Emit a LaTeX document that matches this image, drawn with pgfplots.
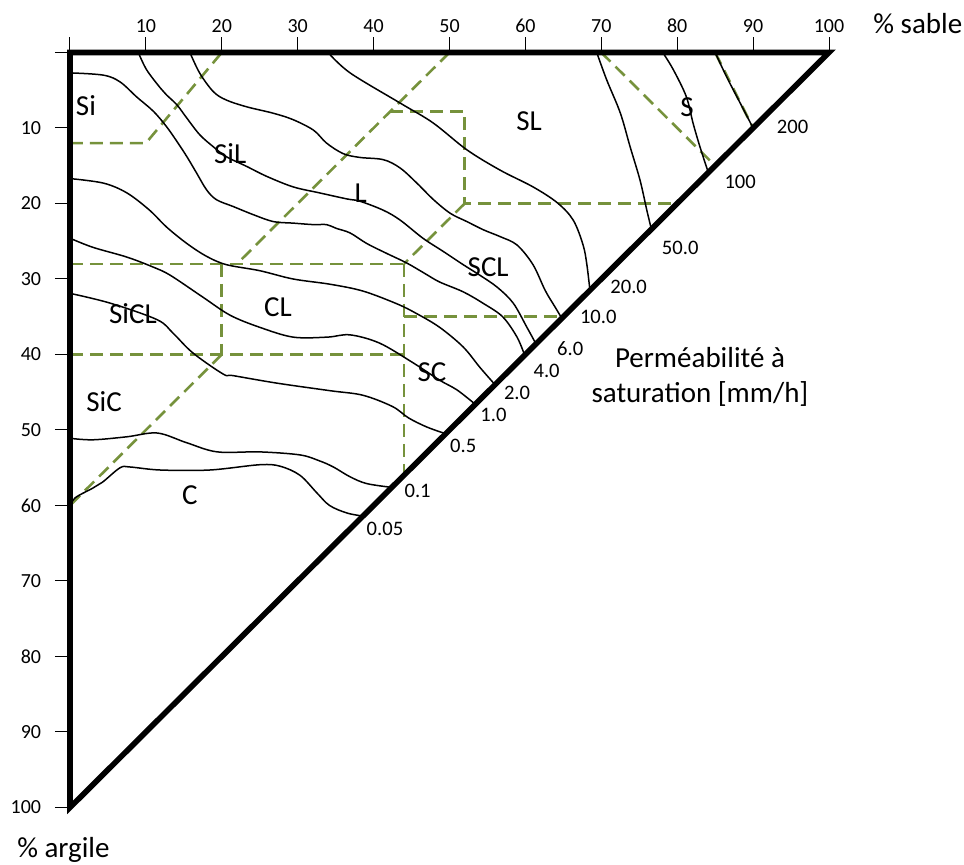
\documentclass[border=0pt]{standalone}
\usepackage{fontspec}
\setmainfont{Carlito}
\usepackage{pgfplots}
\pgfplotsset{compat=1.18}
\definecolor{olivegrn}{RGB}{118,146,60}
\newcommand\bigf{\fontsize{14.5}{17.7}\selectfont}
\newcommand\smf{\fontsize{10.3}{12.5}\selectfont}
\begin{document}
\begin{tikzpicture}
\begin{axis}[
  at={(0,0)}, anchor=south west,
  scale only axis, width=379.5pt, height=377.5pt,
  xmin=0, xmax=100, ymin=0, ymax=100,
  y dir=reverse, clip=false,
  axis line style={draw=none},
  xtick={0,10,...,100}, ytick={0,10,...,100},
  xticklabels={,10,20,30,40,50,60,70,80,90,100},
  yticklabels={,10,20,30,40,50,60,70,80,90,100},
  xtick pos=right, ytick pos=left,
  xticklabel pos=right, yticklabel pos=left,
  tick align=outside, major tick length=7.5pt,
  tick style={black, line width=0.5pt},
  /pgf/number format/assume math mode=true,
  ticklabel style={font=\fontsize{10}{12}\selectfont},
  xticklabel style={yshift=-1.2pt},
  yticklabel style={xshift=-3.4pt},
  pcurve/.style={black, line width=0.75pt, smooth, tension=0.55},
  grn/.style={olivegrn, line width=1.3pt, dash pattern=on 6.5pt off 3.5pt},
]
% texture class boundaries
\addplot[grn] coordinates {(0,12) (10,12) (20,0)};
\addplot[grn] coordinates {(50,0) (22,28)};
\addplot[grn] coordinates {(42.2,7.8) (52,7.8) (52,20) (80,20)};
\addplot[grn] coordinates {(52,20) (44,28)};
\addplot[grn] coordinates {(0,28) (44,28)};
\addplot[grn] coordinates {(44,28) (44,56)};
\addplot[grn] coordinates {(44,35) (65,35)};
\addplot[grn] coordinates {(0,40) (44,40)};
\addplot[grn] coordinates {(20,28) (20,40)};
\addplot[grn] coordinates {(20,40) (0,60)};
\addplot[grn] coordinates {(70,0) (85,15)};
\addplot[grn] coordinates {(85,0) (90,10)};
% permeability curves
\addplot[pcurve] coordinates {(0,60.2) (0.66,59.0) (3.0,57.7) (4.3,56.9) (6.6,55.0) (7.9,54.9) (11.9,55.3) (18.4,55.3) (25.0,54.6) (27.7,54.8) (30.3,56.0) (32.5,58.3) (34.2,60.0) (36.5,61.0) (38.6,61.4)};
\addplot[pcurve] coordinates {(0,51.1) (3.0,51.3) (7.5,50.9) (11.5,50.4) (15.4,51.7) (19.4,52.9) (25.0,52.9) (30.3,53.3) (32.9,54.1) (34.7,54.9) (36.9,56.2) (39.1,57.1) (42.4,57.6)};
\addplot[pcurve] coordinates {(0,31.9) (5.3,33.2) (11.5,35.4) (13.6,37.2) (16.2,39.8) (20.2,42.6) (21.5,42.8) (27.3,43.8) (34.3,44.8) (38.6,45.4) (42.5,46.9) (44.6,48.4) (47.0,49.6) (49.5,50.5)};
\addplot[pcurve] coordinates {(0,24.6) (3.0,25.8) (7.5,27.1) (10.9,28.4) (13.2,29.5) (17.5,32.4) (21.1,34.8) (25.0,36.4) (29.4,37.7) (33.9,37.7) (36.9,37.4) (40.8,38.5) (45.2,41.1) (48.7,43.4) (51.0,44.7) (53.4,46.6)};
\addplot[pcurve] coordinates {(0,16.7) (4.4,17.3) (7.5,18.6) (10.5,20.9) (12.7,23.1) (15.4,25.3) (18.0,27.0) (20.6,28.1) (25.0,28.9) (29.4,30.0) (34.3,30.7) (38.6,31.6) (43.1,33.3) (45.7,34.6) (48.7,36.4) (51.8,39.0) (54.0,41.7) (56.0,44.0)};
\addplot[pcurve] coordinates {(0,2.7) (4.4,3.0) (6.6,3.9) (8.8,5.9) (11.0,7.8) (12.7,9.8) (14.1,11.8) (15.4,13.8) (16.7,16.0) (18.0,18.2) (19.3,19.5) (21.5,20.4) (24.2,21.5) (26.8,22.4) (29.4,22.6) (32.1,22.8) (33.8,22.8) (35.1,23.3) (36.9,23.9) (39.1,25.3) (41.7,26.6) (44.4,27.9) (46.8,29.3) (48.7,30.4) (51.8,31.7) (54.4,33.2) (57.0,35.0) (58.9,37.7) (59.9,40.1)};
\addplot[pcurve] coordinates {(9.0,0) (10.1,2.3) (11.9,4.7) (12.7,5.6) (14.1,6.95) (15.4,8.7) (17.1,10.9) (18.9,12.5) (20.6,13.8) (23.3,15.1) (25.9,16.4) (29.4,17.8) (32.9,18.6) (36.5,19.4) (38.2,19.7) (41.3,20.9) (43.5,22.2) (46.5,24.6) (49.1,26.3) (51.8,28.1) (54.0,29.5) (56.3,31.1) (58.4,33.2) (60.2,36.4) (61.4,38.6)};
\addplot[pcurve] coordinates {(15.8,0) (17.1,2.75) (18.9,5.2) (20.6,6.3) (23.3,7.2) (26.8,8.05) (29.4,8.9) (32.1,10.3) (33.8,12.0) (36.0,13.4) (38.2,13.9) (41.3,14.2) (43.5,15.3) (45.7,17.3) (47.9,19.5) (50.1,21.3) (52.3,22.4) (54.5,23.5) (56.7,24.4) (58.9,25.5) (61.0,28.1) (62.6,31.5) (63.9,33.7) (64.8,35.2)};
\addplot[pcurve] coordinates {(34.0,0) (36.9,2.7) (43.5,6.7) (47.8,9.3) (52.3,12.9) (56.7,15.6) (61.0,17.8) (64.2,19.9) (66.3,22.2) (67.6,25.5) (68.1,28.1) (68.5,31.5)};
\addplot[pcurve] coordinates {(69.4,0) (70.7,3.6) (72.5,8.0) (73.8,12.5) (75.1,16.9) (76.0,20.9) (76.6,23.4)};
\addplot[pcurve] coordinates {(78.1,0) (79.5,2.3) (81.2,5.85) (82.1,9.4) (83.0,12.5) (84.1,15.9)};
\addplot[pcurve] coordinates {(85.0,0) (86.5,3.2) (88.3,6.7) (90.0,10.0)};
% triangle frame
\addplot[black, line width=2.8pt, line join=miter] coordinates {(0,0) (100,0) (0,100) (0,0) (100,0)};
% region labels
\node[font=\bigf] at (axis cs:2.1,7.1) {Si};
\node[font=\bigf] at (axis cs:21.1,13.4) {SiL};
\node[font=\bigf] at (axis cs:38.3,18.7) {L};
\node[font=\bigf] at (axis cs:60.5,9.1) {SL};
\node[font=\bigf] at (axis cs:81.3,7.2) {S};
\node[font=\bigf] at (axis cs:55.1,28.4) {SCL};
\node[font=\bigf] at (axis cs:27.4,33.7) {CL};
\node[font=\bigf] at (axis cs:8.3,34.6) {SiCL};
\node[font=\bigf] at (axis cs:47.7,42.3) {SC};
\node[font=\bigf] at (axis cs:4.5,46.2) {SiC};
\node[font=\bigf] at (axis cs:15.8,58.7) {C};
% permeability labels
\node[font=\smf] at (axis cs:95.2,9.8) {200};
\node[font=\smf] at (axis cs:88.3,17.2) {100};
\node[font=\smf] at (axis cs:80.4,25.9) {50.0};
\node[font=\smf] at (axis cs:73.6,31.0) {20.0};
\node[font=\smf] at (axis cs:69.6,35.0) {10.0};
\node[font=\smf] at (axis cs:65.9,39.2) {6.0};
\node[font=\smf] at (axis cs:62.8,42.2) {4.0};
\node[font=\smf] at (axis cs:58.9,45.1) {2.0};
\node[font=\smf] at (axis cs:55.8,48.0) {1.0};
\node[font=\smf] at (axis cs:51.8,52.1) {0.5};
\node[font=\smf] at (axis cs:45.8,58.1) {0.1};
\node[font=\smf] at (axis cs:41.5,63.1) {0.05};
\node[font=\bigf, align=center] at (axis cs:83.0,43.0) {Perméabilité à\\saturation [mm/h]};
\node[font=\bigf, anchor=base west, inner sep=0pt] at (axis cs:105.8,-2.54) {\% sable};
\node[font=\bigf, anchor=base west, inner sep=0pt] at (axis cs:-7.0,106.6) {\% argile};
\coordinate (TL) at (axis cs:0,0);
\coordinate (BR) at (axis cs:100,100);
\end{axis}
\pgfresetboundingbox
\path ([xshift=-35pt,yshift=26.25pt]TL) rectangle ([xshift=67.5pt,yshift=-28.75pt]BR);
\end{tikzpicture}
\end{document}
